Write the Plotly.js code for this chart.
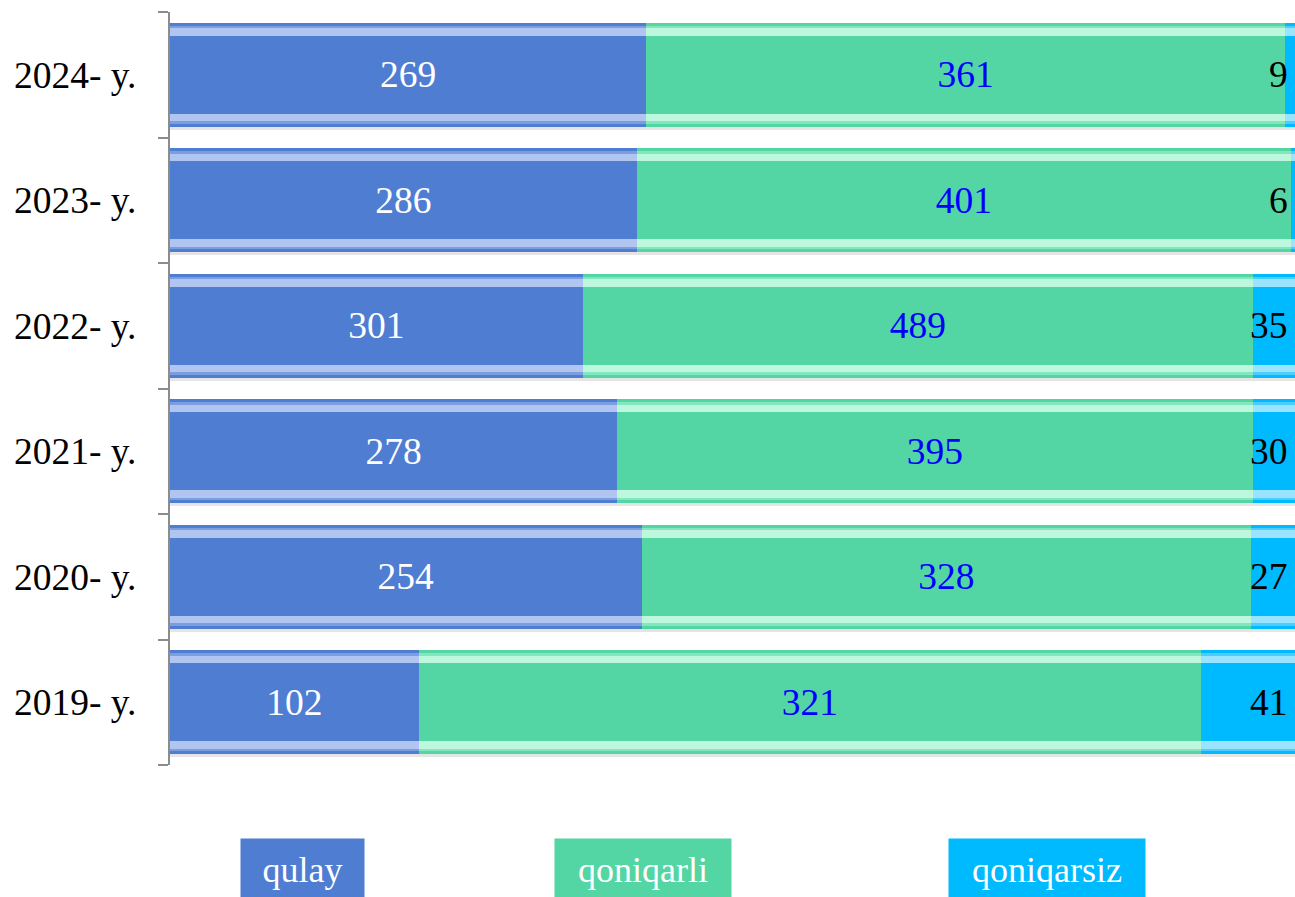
<!DOCTYPE html>
<html>
<head>
<meta charset="utf-8">
<script src="https://cdn.plot.ly/plotly-3.0.1.min.js"></script>
<style>html,body{margin:0;padding:0;background:#fff;}#chart{width:1295px;height:897px;}</style>
</head>
<body>
<div id="chart"></div>
<script>
const categories = ['2019- y.', '2020- y.', '2021- y.', '2022- y.', '2023- y.', '2024- y.'];
const seriesNames = ['qulay', 'qoniqarli', 'qoniqarsiz'];
const qulay = [102, 254, 278, 301, 286, 269];
const qoniqarli = [321, 328, 395, 489, 401, 361];
const qoniqarsiz = [41, 27, 30, 35, 6, 9];

const values = [qulay, qoniqarli, qoniqarsiz];
const baseColors = ['#4E7DD2', '#53D6A4', '#00BAFF'];
const midColors = ['#7C9EE0', '#82E6BE', '#4CCCFF'];
const lightColors = ['#B0C6F0', '#BDF8DE', '#9AE4FF'];
const labelColors = ['#FFFFFF', '#0000FF', '#000000'];
const FONT = '"Liberation Serif", "Times New Roman", serif';
const FS = 37.5;

const traces = [];
// shadow layer
traces.push({
  type: 'bar', orientation: 'h', y: categories, x: categories.map(() => 1),
  yaxis: 'y', width: 0.83, offset: -0.44,
  marker: {color: 'rgba(0,0,0,0.10)'}, hoverinfo: 'skip', showlegend: false
});
const layers = [
  {axis: 'y2', width: 0.83, colors: baseColors},
  {axis: 'y3', width: 0.78, colors: midColors},
  {axis: 'y4', width: 0.74, colors: lightColors},
  {axis: 'y5', width: 0.62, colors: baseColors}
];
layers.forEach((L, li) => {
  values.forEach((vals, si) => {
    const isTop = li === layers.length - 1;
    const t = {
      type: 'bar', orientation: 'h', name: seriesNames[si],
      y: categories, x: vals, yaxis: L.axis, width: L.width,
      marker: {color: L.colors[si]}, showlegend: false,
      hoverinfo: isTop ? 'x+y+name' : 'skip'
    };
    if (isTop && si < 2) {
      t.text = vals.map(String);
      t.textposition = 'inside';
      t.insidetextanchor = 'middle';
      t.textangle = 0;
      t.textfont = {family: FONT, size: FS, color: labelColors[si]};
    }
    traces.push(t);
  });
});

const annotations = [];
// qoniqarsiz labels, right aligned
categories.forEach((c, i) => {
  annotations.push({
    xref: 'paper', yref: 'y5', x: 0.9956, y: c, xanchor: 'right', yanchor: 'middle',
    text: String(qoniqarsiz[i]), showarrow: false,
    font: {family: FONT, size: FS, color: labelColors[2]}
  });
});
// legend boxes
const legendX = [0.1178, 0.4204, 0.7796];
const legendW = [123, 176, 196];
seriesNames.forEach((n, i) => {
  annotations.push({
    xref: 'paper', yref: 'paper', x: legendX[i], y: -0.0969,
    xanchor: 'center', yanchor: 'top', text: n, showarrow: false,
    width: legendW[i], height: 62, bgcolor: baseColors[i], borderpad: 0,
    valign: 'middle', align: 'center',
    font: {family: FONT, size: 36, color: '#FFFFFF'}
  });
});

const hiddenY = {overlaying: 'y', matches: 'y', visible: false, type: 'category'};
const layout = {
  width: 1295, height: 897,
  margin: {l: 170, r: 0, t: 12, b: 132},
  paper_bgcolor: '#FFFFFF', plot_bgcolor: '#FFFFFF',
  barmode: 'stack', barnorm: 'fraction',
  showlegend: false,
  xaxis: {range: [0, 0.9947], visible: false, fixedrange: true},
  yaxis: {
    type: 'category', categoryorder: 'array', categoryarray: categories,
    showline: true, linecolor: '#8C8C8C', linewidth: 2,
    ticks: 'outside', ticklen: 10, tickcolor: '#8C8C8C', tickwidth: 2,
    tickson: 'boundaries', showgrid: false, zeroline: false,
    ticklabelstandoff: 24,
    tickfont: {family: FONT, size: FS, color: '#000000'}
  },
  yaxis2: Object.assign({}, hiddenY),
  yaxis3: Object.assign({}, hiddenY),
  yaxis4: Object.assign({}, hiddenY),
  yaxis5: Object.assign({}, hiddenY),
  annotations: annotations
};
Plotly.newPlot('chart', traces, layout, {displayModeBar: false, staticPlot: true});
</script>
</body>
</html>
